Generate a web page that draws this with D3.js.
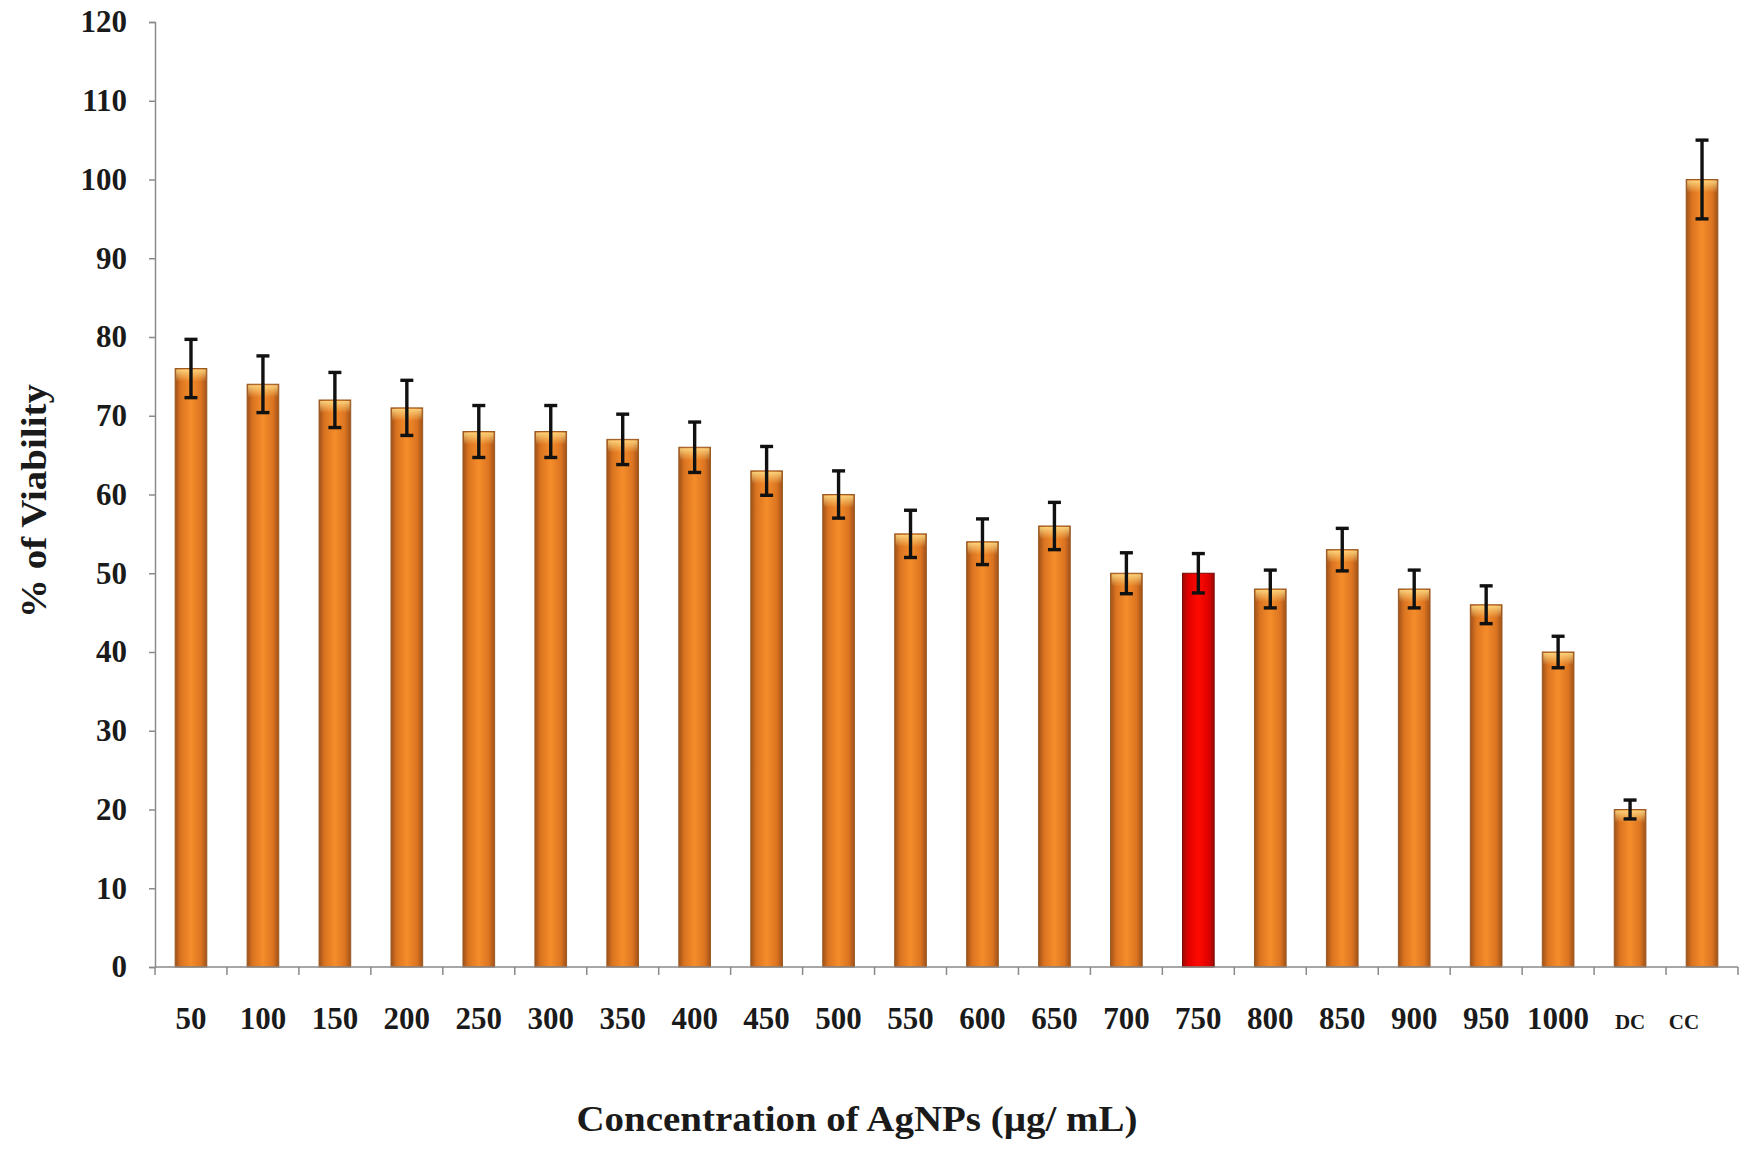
<!DOCTYPE html>
<html>
<head>
<meta charset="utf-8">
<script src="https://cdn.jsdelivr.net/npm/d3@7"></script>
<style>
  html, body { margin: 0; padding: 0; background: #ffffff; }
  svg { display: block; }
  text { font-family: "Liberation Serif", "Times New Roman", serif; font-weight: bold; fill: #1a1a1a; }
</style>
</head>
<body>
<svg id="chart" width="1754" height="1152"></svg>
<script>
// Cell viability (%) for each AgNP concentration, plus drug control (DC) and cell control (CC)
const categories = ["50","100","150","200","250","300","350","400","450","500","550","600","650","700","750","800","850","900","950","1000","DC","CC"];
const viability  = [76, 74, 72, 71, 68, 68, 67, 66, 63, 60, 55, 54, 56, 50, 50, 48, 53, 48, 46, 40, 20, 100];
const errors     = [3.7, 3.6, 3.5, 3.5, 3.3, 3.3, 3.2, 3.2, 3.1, 3.0, 3.0, 2.9, 3.0, 2.6, 2.5, 2.4, 2.7, 2.4, 2.4, 2.0, 1.2, 5.0];
const highlighted = ["750"];
const yTicks = [0, 10, 20, 30, 40, 50, 60, 70, 80, 90, 100, 110, 120];

const svg = d3.select("#chart");
const margin = { left: 155, right: 16, top: 22, bottom: 185 };
const W = 1754, H = 1152;

const x = d3.scaleBand().domain(categories).range([margin.left, W - margin.right]).paddingInner(0.56).paddingOuter(0.28);
const y = d3.scaleLinear().domain([0, 120]).range([H - margin.bottom, margin.top]);

// Bar fills: cylindrical shading across the width
const defs = svg.append("defs");
function shade(id, edge, mid, centre) {
  const g = defs.append("linearGradient").attr("id", id).attr("x1", "0").attr("x2", "1").attr("y1", "0").attr("y2", "0");
  g.append("stop").attr("offset", "0%").attr("stop-color", edge);
  g.append("stop").attr("offset", "18%").attr("stop-color", mid);
  g.append("stop").attr("offset", "50%").attr("stop-color", centre);
  g.append("stop").attr("offset", "82%").attr("stop-color", mid);
  g.append("stop").attr("offset", "100%").attr("stop-color", edge);
}
shade("orangeFill", "#a0511a", "#db7420", "#f58d2b");
shade("redFill", "#9c0b06", "#e00000", "#ff0a00");
const glow = defs.append("linearGradient").attr("id", "topGlow").attr("x1", "0").attr("x2", "0").attr("y1", "0").attr("y2", "1");
glow.append("stop").attr("offset", "0%").attr("stop-color", "#ffe08a").attr("stop-opacity", 0.85);
glow.append("stop").attr("offset", "100%").attr("stop-color", "#ffe08a").attr("stop-opacity", 0);

const data = categories.map((c, i) => ({ c, v: viability[i], e: errors[i], hot: highlighted.includes(c) }));

// Bars
const bars = svg.append("g");
bars.selectAll("rect.bar").data(data).join("rect")
  .attr("class", "bar")
  .attr("x", d => x(d.c))
  .attr("width", x.bandwidth())
  .attr("y", d => y(d.v))
  .attr("height", d => y(0) - y(d.v))
  .attr("fill", d => d.hot ? "url(#redFill)" : "url(#orangeFill)")
  .attr("stroke", d => d.hot ? "#7a0a05" : "#9a5a22")
  .attr("stroke-width", 1);
bars.selectAll("rect.glow").data(data.filter(d => !d.hot)).join("rect")
  .attr("class", "glow")
  .attr("x", d => x(d.c) + 1)
  .attr("width", x.bandwidth() - 2)
  .attr("y", d => y(d.v) + 1)
  .attr("height", 12)
  .attr("fill", "url(#topGlow)");

// Error bars
const eb = svg.append("g").attr("stroke", "#111").attr("stroke-width", 3.4);
const cx = d => x(d.c) + x.bandwidth() / 2;
const cap = 6.5;
eb.selectAll("line.stem").data(data).join("line")
  .attr("x1", cx).attr("x2", cx)
  .attr("y1", d => y(d.v + d.e)).attr("y2", d => y(d.v - d.e));
eb.selectAll("line.top").data(data).join("line")
  .attr("x1", d => cx(d) - cap).attr("x2", d => cx(d) + cap)
  .attr("y1", d => y(d.v + d.e)).attr("y2", d => y(d.v + d.e));
eb.selectAll("line.bot").data(data).join("line")
  .attr("x1", d => cx(d) - cap).attr("x2", d => cx(d) + cap)
  .attr("y1", d => y(d.v - d.e)).attr("y2", d => y(d.v - d.e));

// Y axis
const yAxis = svg.append("g").attr("transform", `translate(${margin.left},0)`)
  .call(d3.axisLeft(y).tickValues(yTicks).tickSize(6).tickPadding(22));
yAxis.select(".domain").attr("stroke", "#8a8a8a").attr("stroke-width", 1.5);
yAxis.selectAll(".tick line").attr("stroke", "#8a8a8a").attr("stroke-width", 1.5);
yAxis.selectAll(".tick text").style("font-size", "31px").attr("fill", "#1a1a1a");

// X axis: ticks fall on the category boundaries
const xAxisG = svg.append("g").attr("transform", `translate(0,${y(0)})`);
xAxisG.append("line")
  .attr("x1", margin.left).attr("x2", W - margin.right + 0)
  .attr("stroke", "#8a8a8a").attr("stroke-width", 1.5);
const step = x.step();
const bounds = categories.map(c => x(c) - x.paddingInner() * step / 2).concat([x(categories[categories.length - 1]) + x.bandwidth() + x.paddingInner() * step / 2]);
xAxisG.selectAll("line.tk").data(bounds).join("line")
  .attr("class", "tk")
  .attr("x1", d => d).attr("x2", d => d).attr("y1", 0).attr("y2", 8)
  .attr("stroke", "#8a8a8a").attr("stroke-width", 1.5);
xAxisG.selectAll("text.lbl").data(categories).join("text")
  .attr("class", "lbl")
  .attr("x", c => x(c) + x.bandwidth() / 2 + (c === "CC" ? -18 : 0))
  .attr("y", 62)
  .attr("text-anchor", "middle")
  .style("font-size", c => (c === "DC" || c === "CC") ? "21px" : "31px")
  .text(c => c);

// Axis titles
svg.append("text")
  .attr("x", 857).attr("y", 1131)
  .attr("text-anchor", "middle")
  .attr("textLength", 561)
  .attr("lengthAdjust", "spacingAndGlyphs")
  .style("font-size", "35px")
  .text("Concentration of AgNPs (µg/ mL)");
svg.append("text")
  .attr("transform", "translate(46,501) rotate(-90)")
  .attr("text-anchor", "middle")
  .attr("textLength", 234)
  .attr("lengthAdjust", "spacingAndGlyphs")
  .style("font-size", "35px")
  .text("% of Viability");
</script>
</body>
</html>
